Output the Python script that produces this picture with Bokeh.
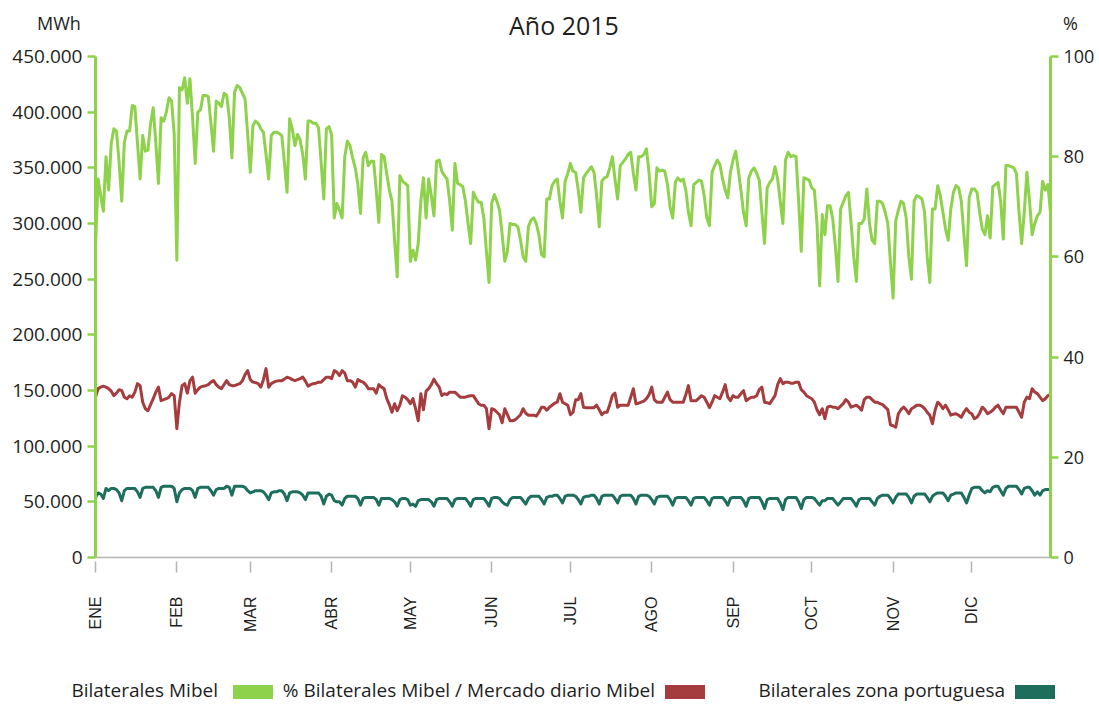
import math
from bokeh.plotting import figure
from bokeh.models import Range1d, LinearAxis, FixedTicker, ColumnDataSource, Div
from bokeh.layouts import column
from bokeh.embed import file_html
from bokeh.resources import INLINE

# ---------------- data ----------------
chart_title = "Año 2015"
left_unit = "MWh"
right_unit = "%"

month_labels = ["ENE", "FEB", "MAR", "ABR", "MAY", "JUN", "JUL", "AGO", "SEP", "OCT", "NOV", "DIC"]
month_start_days = [0, 31, 59, 90, 120, 151, 181, 212, 243, 273, 304, 334]

left_ticks = [0, 50000, 100000, 150000, 200000, 250000, 300000, 350000, 400000, 450000]
left_tick_labels = ["0", "50.000", "100.000", "150.000", "200.000", "250.000",
                    "300.000", "350.000", "400.000", "450.000"]
right_ticks = [0, 20, 40, 60, 80, 100]
right_tick_labels = ["0", "20", "40", "60", "80", "100"]

# Bilaterales Mibel, daily 2015 (thousand MWh)
bilaterales_mibel_k = [
    280, 340, 325, 311, 360, 330, 372,
    385, 383, 355, 320, 373, 383, 383,
    406, 405, 372, 340, 379, 365, 366,
    390, 404, 372, 336, 395, 392, 400,
    413, 410, 380, 267, 422, 420, 431,
    408, 430, 395, 354, 400, 402, 415,
    415, 414, 390, 365, 410, 408, 405,
    417, 415, 395, 359, 418, 424, 422,
    417, 412, 380, 346, 388, 392, 390,
    385, 382, 362, 340, 379, 382, 382,
    381, 379, 355, 328, 394, 385, 370,
    380, 375, 362, 340, 392, 392, 390,
    390, 386, 355, 322, 385, 387, 380,
    305, 318, 312, 305, 360, 374, 370,
    359, 350, 335, 309, 359, 364, 352,
    356, 356, 330, 301, 362, 360, 345,
    330, 320, 285, 252, 343, 338, 336,
    334, 266, 276, 267, 282, 320, 341,
    305, 340, 325, 307, 356, 357, 347,
    343, 340, 320, 294, 354, 336, 335,
    333, 320, 300, 282, 328, 323, 319,
    319, 305, 275, 247, 318, 326, 320,
    312, 290, 266, 275, 300, 299, 299,
    297, 285, 270, 266, 297, 303, 305,
    300, 290, 272, 270, 322, 322, 334,
    338, 340, 320, 305, 338, 345, 354,
    347, 346, 330, 310, 341, 345, 348,
    351, 346, 325, 297, 338, 341, 342,
    350, 360, 340, 322, 352, 355, 358,
    362, 364, 345, 330, 360, 360, 362,
    367, 345, 315, 318, 350, 347, 348,
    347, 335, 315, 305, 337, 341, 338,
    340, 330, 310, 298, 335, 337, 339,
    338, 325, 305, 298, 346, 352, 357,
    353, 340, 330, 323, 346, 357, 365,
    348, 330, 310, 298, 341, 347, 350,
    345, 339, 310, 282, 332, 337, 340,
    351, 340, 320, 300, 357, 364, 360,
    361, 360, 320, 275, 341, 340, 339,
    332, 330, 300, 244, 308, 290, 316,
    316, 304, 280, 248, 313, 319, 325,
    328, 300, 270, 248, 300, 300, 304,
    331, 300, 285, 282, 320, 320, 318,
    310, 300, 265, 233, 302, 312, 320,
    318, 305, 270, 250, 320, 325, 324,
    322, 310, 270, 247, 313, 313, 334,
    325, 310, 295, 285, 313, 328, 334,
    332, 320, 290, 262, 323, 331, 331,
    328, 310, 295, 290, 307, 287, 333,
    335, 337, 320, 286, 352, 352, 351,
    350, 345, 310, 282, 310, 346, 320,
    290, 300, 307, 310, 338, 330, 335,
    310,
]

# % Bilaterales Mibel / Mercado diario Mibel, daily 2015
pct_bilaterales = [
    32.0, 33.7, 34.0, 34.2, 34.0, 33.7, 33.2,
    32.3, 32.8, 33.5, 33.3, 32.0, 31.7, 32.3,
    32.0, 33.0, 34.7, 34.3, 31.0, 29.7, 29.3,
    30.5, 31.7, 33.0, 34.0, 31.3, 31.5, 31.7,
    32.0, 32.7, 32.3, 25.7, 31.0, 34.3, 34.7,
    32.8, 35.3, 36.0, 32.8, 33.5, 34.0, 34.2,
    34.3, 34.5, 35.0, 35.3, 34.5, 34.0, 33.7,
    34.5, 35.3, 34.5, 34.3, 34.3, 34.5, 34.7,
    35.3, 36.5, 37.3, 35.5, 35.0, 34.9, 34.7,
    34.0, 35.5, 37.7, 34.0, 34.7, 35.0, 35.2,
    35.3, 35.3, 35.6, 36.0, 35.8, 35.5, 35.3,
    35.5, 35.7, 36.0, 35.2, 34.2, 34.5, 34.7,
    34.8, 35.0, 35.0, 35.5, 36.0, 36.0, 35.7,
    37.3, 37.0, 36.3, 37.3, 36.8, 35.3, 35.3,
    35.0, 34.0, 35.5, 35.2, 35.0, 34.5, 33.7,
    33.7, 33.7, 32.8, 34.5, 34.0, 33.7, 31.7,
    30.5, 29.0, 30.7, 29.3, 30.4, 32.3, 32.0,
    31.5, 30.7, 31.7, 29.7, 27.3, 32.7, 29.5,
    33.2, 33.7, 34.5, 35.6, 34.7, 34.0, 32.3,
    32.7, 32.5, 33.0, 33.0, 33.0, 32.5, 32.0,
    32.0, 32.0, 32.2, 32.3, 32.3, 31.5, 30.7,
    30.4, 30.4, 29.7, 25.7, 29.7, 29.5, 29.0,
    28.5, 26.9, 29.7, 28.5, 27.3, 27.3, 27.5,
    28.0, 28.5, 29.7, 28.8, 28.4, 28.4, 28.4,
    28.2, 29.0, 30.0, 30.0, 29.4, 30.0, 30.4,
    30.8, 31.0, 32.7, 31.0, 30.7, 30.4, 28.5,
    29.0, 31.5, 31.5, 32.7, 30.0, 29.9, 29.9,
    29.9, 29.9, 30.4, 29.5, 28.5, 29.0, 29.0,
    30.5, 32.3, 32.8, 30.0, 30.4, 30.4, 30.4,
    30.4, 32.0, 33.7, 30.7, 30.8, 31.0, 31.2,
    31.7, 32.5, 34.0, 31.5, 31.0, 31.0, 31.0,
    32.0, 33.0, 31.5, 31.0, 31.0, 31.0, 31.0,
    31.0, 32.5, 34.3, 31.3, 31.3, 31.3, 31.8,
    32.3, 32.0, 31.0, 29.9, 31.0, 32.3, 32.0,
    31.7, 33.0, 34.5, 32.0, 31.3, 32.3, 32.0,
    32.0, 32.7, 33.3, 31.3, 31.7, 32.0, 32.0,
    32.3, 33.5, 34.0, 31.0, 30.9, 30.7, 31.5,
    32.3, 34.5, 35.7, 34.7, 35.0, 35.0, 34.8,
    34.8, 35.0, 35.0, 33.5, 33.0, 32.3, 32.0,
    31.7, 31.0, 29.5, 28.5, 29.7, 27.7, 30.0,
    30.2, 30.0, 30.0, 29.7, 30.2, 30.7, 31.5,
    31.0, 30.0, 30.2, 30.4, 30.0, 29.4, 31.5,
    32.0, 32.0, 31.5, 31.0, 31.0, 30.7, 30.5,
    30.0, 29.5, 26.5, 26.3, 26.0, 28.7, 29.5,
    30.0, 29.5, 28.7, 29.7, 30.0, 30.4, 30.4,
    30.2, 29.7, 29.0, 28.4, 26.7, 29.4, 31.0,
    30.5, 29.7, 30.4, 29.5, 28.4, 28.6, 28.7,
    28.4, 28.0, 29.0, 29.7, 29.0, 28.7, 27.7,
    28.0, 28.8, 30.0, 29.5, 28.7, 29.0, 29.4,
    30.0, 30.4, 29.5, 28.7, 30.0, 30.0, 30.0,
    30.0, 30.0, 29.0, 28.0, 31.0, 32.0, 31.7,
    33.7, 33.0, 32.7, 32.0, 31.3, 31.7, 32.3,
    32.5,
]

# Bilaterales zona portuguesa, daily 2015 (thousand MWh)
bilaterales_pt_k = [
    54, 58, 57, 53, 62, 60, 62,
    62, 61, 58, 51, 60, 62, 62,
    62, 62, 59, 54, 62, 63, 63,
    63, 63, 60, 54, 63, 64, 64,
    64, 64, 62, 50, 58, 61, 62,
    62, 62, 60, 54, 62, 63, 63,
    63, 63, 60, 56, 61, 62, 62,
    62, 64, 63, 56, 64, 64, 64,
    64, 63, 60, 58, 59, 60, 60,
    60, 59, 56, 52, 58, 59, 59,
    60, 60, 57, 51, 58, 59, 59,
    59, 58, 56, 52, 58, 58, 58,
    58, 58, 55, 48, 55, 57, 56,
    51, 50, 50, 47, 53, 55, 55,
    55, 55, 53, 47, 53, 54, 54,
    54, 54, 52, 47, 53, 53, 53,
    53, 52, 50, 46, 52, 53, 53,
    52, 47, 48, 46, 51, 52, 52,
    52, 52, 50, 46, 52, 53, 53,
    53, 53, 50, 46, 52, 53, 53,
    53, 53, 50, 46, 52, 53, 53,
    53, 53, 50, 46, 53, 54, 54,
    53, 50, 48, 47, 52, 54, 54,
    54, 54, 51, 48, 53, 55, 55,
    55, 55, 52, 48, 54, 55, 55,
    56, 56, 53, 49, 55, 56, 56,
    56, 55, 52, 48, 54, 55, 55,
    56, 56, 53, 48, 55, 56, 56,
    56, 56, 53, 49, 55, 56, 56,
    56, 56, 53, 48, 55, 56, 56,
    56, 55, 52, 48, 54, 55, 55,
    55, 55, 52, 47, 53, 54, 54,
    54, 54, 51, 47, 53, 54, 54,
    54, 54, 51, 47, 53, 54, 54,
    54, 54, 51, 47, 53, 54, 54,
    54, 54, 51, 46, 53, 54, 54,
    54, 54, 50, 44, 52, 53, 53,
    53, 53, 49, 43, 52, 54, 54,
    54, 54, 50, 44, 52, 54, 54,
    54, 53, 50, 47, 51, 51, 53,
    53, 53, 50, 47, 50, 53, 53,
    53, 53, 50, 46, 52, 53, 53,
    53, 53, 50, 47, 53, 55, 56,
    56, 56, 53, 49, 54, 57, 57,
    57, 57, 54, 49, 55, 57, 57,
    57, 57, 54, 50, 55, 57, 58,
    58, 58, 55, 51, 56, 57, 58,
    58, 58, 54, 49, 56, 62, 63,
    63, 63, 60, 58, 60, 59, 63,
    64, 64, 60, 56, 62, 64, 64,
    64, 64, 61, 57, 62, 63, 63,
    60, 56, 59, 56, 60, 61, 61,
    61,
]

legend_labels = ["Bilaterales Mibel", "% Bilaterales Mibel / Mercado diario Mibel",
                 "Bilaterales zona portuguesa"]

# ---------------- styles ----------------
GREEN = "#8dd24a"
RED = "#a53c3e"
TEAL = "#1e6e5e"
legend_colors = [GREEN, RED, TEAL]
AXIS_GREEN = "#8dd24a"
GRAY = "#b4b4b4"
TXT = "#1e1e1e"
FONT = "Open Sans"
W = 1099

n = len(bilaterales_mibel_k)
assert n == len(pct_bilaterales) == len(bilaterales_pt_k) == 365
days = list(range(n))
src = ColumnDataSource(dict(
    day=days,
    mibel=[v * 1000 for v in bilaterales_mibel_k],
    pct=pct_bilaterales,
    pt=[v * 1000 for v in bilaterales_pt_k],
))

# ---------------- header (title + unit labels) ----------------
header_html = (
    f'<div style="position:relative;width:{W}px;height:40px;font-family:\'{FONT}\',sans-serif;color:{TXT};">'
    f'<span style="position:absolute;left:37px;top:14px;font-size:18px;line-height:1;white-space:nowrap;">{left_unit}</span>'
    f'<span style="position:absolute;left:464px;width:200px;top:13px;font-size:25px;line-height:1;text-align:center;white-space:nowrap;">{chart_title}</span>'
    f'<span style="position:absolute;left:1063px;top:14px;font-size:18px;line-height:1;white-space:nowrap;">{right_unit}</span>'
    '</div>'
)
header = Div(text=header_html, width=W, height=40, margin=0)

# ---------------- main plot ----------------
p = figure(width=W, height=620,
           x_range=Range1d(0, 364), y_range=Range1d(0, 450000),
           output_backend="svg", toolbar_location=None,
           min_border_left=95, min_border_right=49,
           min_border_top=16, min_border_bottom=103)
p.outline_line_color = None
p.xgrid.visible = False
p.ygrid.visible = False
p.extra_y_ranges = {"pct": Range1d(0, 100)}

ya = p.yaxis[0]
ya.ticker = FixedTicker(ticks=left_ticks)
ya.major_label_overrides = dict(zip(left_ticks, left_tick_labels))

ra = LinearAxis(y_range_name="pct", ticker=FixedTicker(ticks=right_ticks),
                major_label_overrides=dict(zip(right_ticks, right_tick_labels)))
p.add_layout(ra, "right")

for ax in (ya, ra):
    ax.axis_line_color = AXIS_GREEN
    ax.axis_line_width = 3
    ax.major_tick_line_color = AXIS_GREEN
    ax.major_tick_line_width = 2.5
    ax.major_tick_out = 8
    ax.major_tick_in = 0
    ax.minor_tick_line_color = None
    ax.major_label_text_font = FONT
    ax.major_label_text_color = TXT
    ax.major_label_standoff = 5
ya.major_label_text_font_size = "19px"
ra.major_label_text_font_size = "18px"

xa = p.xaxis[0]
xa.ticker = FixedTicker(ticks=month_start_days)
xa.major_label_overrides = dict(zip(month_start_days, month_labels))
xa.axis_line_color = GRAY
xa.axis_line_width = 1.5
xa.major_tick_line_color = GRAY
xa.major_tick_line_width = 1.5
xa.major_tick_in = -4
xa.major_tick_out = 15
xa.minor_tick_line_color = None
xa.major_label_orientation = math.pi / 2
xa.major_label_text_font = "Liberation Sans"
xa.major_label_text_font_size = "16px"
xa.major_label_text_color = TXT
xa.major_label_standoff = 24

p.line("day", "mibel", source=src, line_color=GREEN, line_width=3, line_join="round")
p.line("day", "pct", source=src, y_range_name="pct", line_color=RED, line_width=3, line_join="round")
p.line("day", "pt", source=src, line_color=TEAL, line_width=3, line_join="round")

# ---------------- legend (text followed by colour swatch) ----------------
text_right_edges = [218, 655, 1005]
swatch_lefts = [233, 665, 1015]
parts = [f'<div style="position:relative;width:{W}px;height:44px;font-family:\'{FONT}\',sans-serif;color:{TXT};">']
for lab, col, tr, sl in zip(legend_labels, legend_colors, text_right_edges, swatch_lefts):
    parts.append(f'<span style="position:absolute;right:{W - tr}px;top:21px;font-size:19px;line-height:1;white-space:nowrap;">{lab}</span>')
    parts.append(f'<span style="position:absolute;left:{sl}px;top:25px;width:40px;height:14px;background:{col};"></span>')
parts.append('</div>')
legend_div = Div(text="".join(parts), width=W, height=44, margin=0)

layout = column(header, p, legend_div)
open("out.html", "w").write(file_html(layout, INLINE))
